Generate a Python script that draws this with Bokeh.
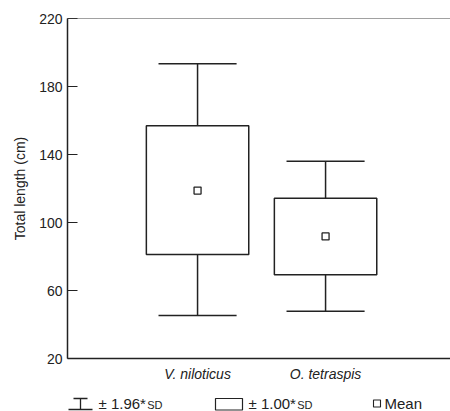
import numpy as np
from bokeh.plotting import figure
from bokeh.layouts import column
from bokeh.models import Range1d, FixedTicker, Span
from bokeh.core.properties import value
from bokeh.embed import file_html
from bokeh.resources import INLINE

# ---- data ----
categories = ["V. niloticus", "O. tetraspis"]
means = [118.8, 91.8]
sd1_low = [81.2, 69.2]
sd1_high = [156.9, 114.3]
sd196_low = [45.3, 47.8]
sd196_high = [193.4, 136.1]
y_ticks = [20, 60, 100, 140, 180, 220]

INK = "#222222"
FONT = "Liberation Sans"

x = np.arange(1, len(categories) + 1)
box_half = 0.40
cap_half = 0.305

p = figure(width=450, height=384, output_backend="svg", toolbar_location=None,
           x_range=Range1d(-0.016, 2.976), y_range=Range1d(20, 220),
           min_border_left=67, min_border_right=0, min_border_top=18, min_border_bottom=26)
p.background_fill_color = "white"
p.border_fill_color = "white"
p.outline_line_color = None
p.xgrid.visible = False
p.ygrid.visible = False

# whiskers
p.segment(x0=x, y0=sd196_low, x1=x, y1=sd1_low, line_color=INK, line_width=1.5)
p.segment(x0=x, y0=sd1_high, x1=x, y1=sd196_high, line_color=INK, line_width=1.5)
p.segment(x0=x - cap_half, y0=sd196_low, x1=x + cap_half, y1=sd196_low, line_color=INK, line_width=1.5)
p.segment(x0=x - cap_half, y0=sd196_high, x1=x + cap_half, y1=sd196_high, line_color=INK, line_width=1.5)
# boxes
p.quad(left=x - box_half, right=x + box_half, bottom=sd1_low, top=sd1_high,
       fill_color=None, line_color=INK, line_width=1.5)
# means
p.scatter(x=x, y=means, marker="square", size=7, fill_color=None, line_color=INK, line_width=1.3)

# top line
p.add_layout(Span(location=220, dimension="width", line_color="#444444", line_width=1))

# axes
xa = p.xaxis[0]
xa.ticker = FixedTicker(ticks=list(x))
xa.major_label_overrides = {int(i): c for i, c in zip(x, categories)}
xa.major_label_text_font = FONT
xa.major_label_text_font_style = "italic"
xa.major_label_text_font_size = "14px"
xa.major_label_text_color = INK
xa.major_label_standoff = 1
xa.major_tick_line_color = None
xa.minor_tick_line_color = None
xa.axis_line_color = INK
xa.axis_line_width = 1.5

ya = p.yaxis[0]
ya.ticker = FixedTicker(ticks=y_ticks)
ya.major_tick_in = 10
ya.major_tick_out = 0
ya.minor_tick_line_color = None
ya.major_tick_line_color = INK
ya.major_tick_line_width = 1.2
ya.axis_line_color = INK
ya.axis_line_width = 1.5
ya.major_label_text_font = FONT
ya.major_label_text_font_size = "14px"
ya.major_label_text_color = INK
ya.major_label_standoff = 5
ya.axis_label = "Total length (cm)"
ya.axis_label_text_font = FONT
ya.axis_label_text_font_size = "14px"
ya.axis_label_text_font_style = "normal"
ya.axis_label_text_color = INK
ya.axis_label_standoff = 8

# ---- legend row (its frame is aligned with the main frame, x in page pixels) ----
lg = figure(width=450, height=27, output_backend="svg", toolbar_location=None,
            x_range=Range1d(67, 450), y_range=Range1d(0, 27),
            min_border_left=0, min_border_right=0, min_border_top=0, min_border_bottom=0)
lg.axis.visible = False
lg.grid.visible = False
lg.outline_line_color = None
lg.background_fill_color = "white"
lg.border_fill_color = "white"

# whisker symbol
lg.segment(x0=[68, 73, 80], y0=[2, 13, 2], x1=[92, 87, 80], y1=[2, 13, 13],
           line_color=INK, line_width=1.3)
# box symbol
lg.quad(left=[215], right=[242], bottom=[1.5], top=[13], fill_color=None, line_color=INK, line_width=1.2)
# mean symbol
lg.scatter(x=[376.5], y=[8], marker="square", size=7, fill_color=None, line_color=INK, line_width=1.1)

lg.text(x=[98, 248, 384], y=[8, 8, 8], text=["± 1.96*", "± 1.00*", "Mean"],
        text_font=value(FONT), text_font_size="15px", text_color=INK, text_baseline="middle")
lg.text(x=[162, 312], y=[7, 7], text=["SD", "SD"], text_align="right",
        text_font=value(FONT), text_font_size="11px", text_color=INK, text_baseline="middle")

layout = column(p, lg, spacing=0)
open("out.html", "w").write(file_html(layout, INLINE))
